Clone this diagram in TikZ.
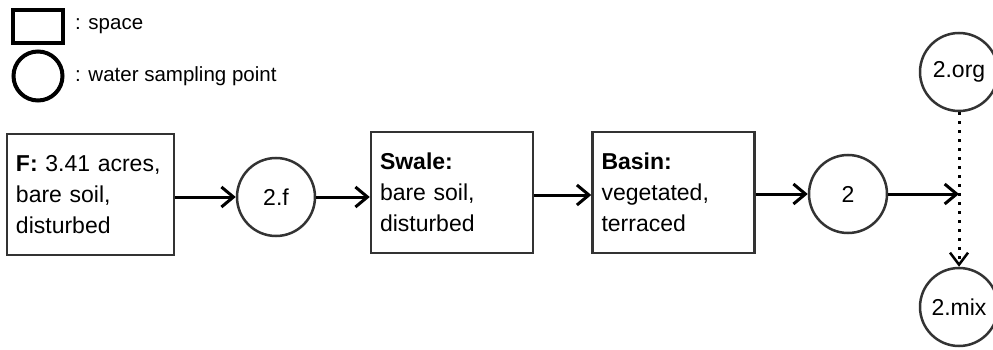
\documentclass[tikz,border=0pt]{standalone}
\usepackage{fontspec}
\setmainfont{Liberation Sans}
\usetikzlibrary{arrows.meta}
\begin{document}
\begin{tikzpicture}[x=1pt,y=-1pt,
  space/.style={draw=black!80, line width=2.5pt, rectangle, inner xsep=9pt, inner ysep=0pt,
    text width=149pt, minimum height=121pt, align=left,
    font=\fontsize{23}{31}\selectfont},
  sample/.style={draw=black!80, line width=2.5pt, circle, minimum size=78pt, inner sep=0pt,
    font=\fontsize{23}{26}\selectfont},
  flow/.style={line width=3pt, -{Straight Barb[length=12pt,width=20pt,line width=3pt]}},
  mixflow/.style={line width=3pt, dash pattern=on 3pt off 6pt, -{Straight Barb[length=12pt,width=18pt,line width=2.5pt]}},
  legendtext/.style={anchor=west, inner sep=0pt, font=\fontsize{20.5}{24}\selectfont}
]
\useasboundingbox (0,0) rectangle (993,350);
% legend
\node[draw=black, line width=4pt, minimum width=50pt, minimum height=33pt, inner sep=0pt] (lbox) at (38,26.5) {};
\node[legendtext] (lboxt) at (75,26) {: space};
\node[draw=black, line width=4pt, circle, minimum size=49pt, inner sep=0pt] (lcirc) at (38,76) {};
\node[legendtext] (lcirct) at (75,76) {: water sampling point};
% spaces
\node[space] (F) at (90.5,194.5) {\textbf{F:} 3.41 acres,\\bare soil,\\disturbed};
\node[space, text width=144pt] (S) at (452,192.5) {\textbf{Swale:}\\bare soil,\\disturbed};
\node[space, text width=144pt] (B) at (673.5,192.5) {\textbf{Basin:}\\vegetated,\\terraced};
% sampling points
\node[sample] (p2f) at (276,197) {2.f};
\node[sample] (p2) at (848,194) {2};
\node[sample] (p2org) at (959,72) {2.org};
\node[sample] (p2mix) at (959,307) {2.mix};
\coordinate (J) at (959,194);
% connectors
\draw[flow] (F.east |- p2f.west) -- (p2f.west);
\draw[flow] (p2f.east) -- (S.west |- p2f.east);
\draw[flow] (S.east |- 0,195) -- (B.west |- 0,195);
\draw[flow] (B.east |- p2.west) -- (p2.west);
\draw[flow] (p2.east) -- (J);
\draw[mixflow] (p2org.south) -- (p2mix.north);
\end{tikzpicture}
\end{document}
